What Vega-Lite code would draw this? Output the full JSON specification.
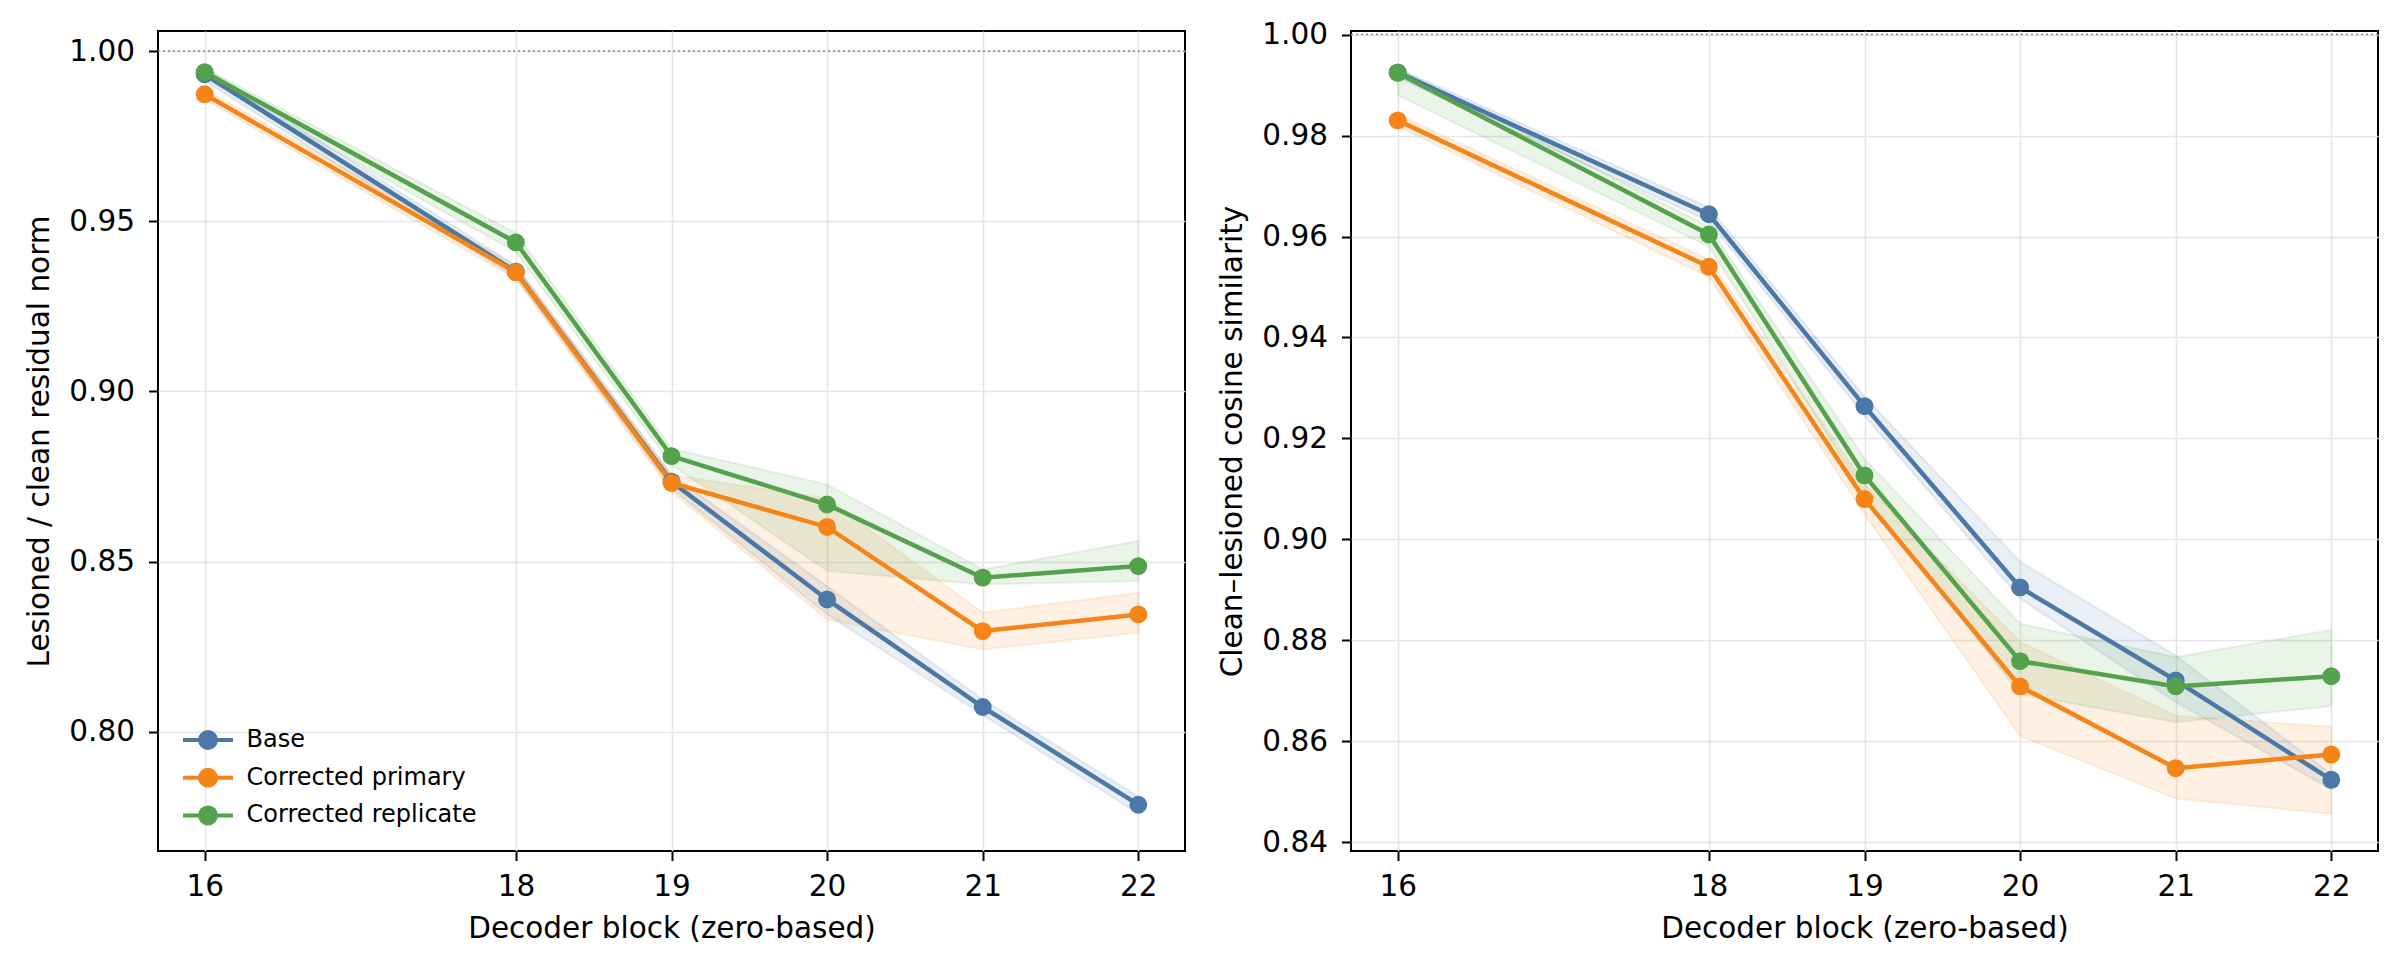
{
  "$schema": "https://vega.github.io/schema/vega-lite/v6.json",
  "background": "white",
  "padding": {"left": 23, "top": 18, "right": 0, "bottom": 0},
  "spacing": 29,
  "datasets": {
    "blocks": [
      {"panel": "norm", "series": "Base", "block": 16, "mean": 0.9932, "lo": 0.9912, "hi": 0.995},
      {"panel": "norm", "series": "Base", "block": 18, "mean": 0.9352, "lo": 0.9335, "hi": 0.937},
      {"panel": "norm", "series": "Base", "block": 19, "mean": 0.8735, "lo": 0.8715, "hi": 0.8755},
      {"panel": "norm", "series": "Base", "block": 20, "mean": 0.8389, "lo": 0.8345, "hi": 0.8428},
      {"panel": "norm", "series": "Base", "block": 21, "mean": 0.8073, "lo": 0.805, "hi": 0.8095},
      {"panel": "norm", "series": "Base", "block": 22, "mean": 0.7786, "lo": 0.776, "hi": 0.781},
      {"panel": "norm", "series": "Corrected primary", "block": 16, "mean": 0.9873, "lo": 0.9858, "hi": 0.9888},
      {"panel": "norm", "series": "Corrected primary", "block": 18, "mean": 0.935, "lo": 0.933, "hi": 0.937},
      {"panel": "norm", "series": "Corrected primary", "block": 19, "mean": 0.8731, "lo": 0.8705, "hi": 0.8755},
      {"panel": "norm", "series": "Corrected primary", "block": 20, "mean": 0.8602, "lo": 0.833, "hi": 0.8685},
      {"panel": "norm", "series": "Corrected primary", "block": 21, "mean": 0.8296, "lo": 0.8242, "hi": 0.835},
      {"panel": "norm", "series": "Corrected primary", "block": 22, "mean": 0.8345, "lo": 0.8291, "hi": 0.8409},
      {"panel": "norm", "series": "Corrected replicate", "block": 16, "mean": 0.9938, "lo": 0.992, "hi": 0.995},
      {"panel": "norm", "series": "Corrected replicate", "block": 18, "mean": 0.9438, "lo": 0.941, "hi": 0.9465},
      {"panel": "norm", "series": "Corrected replicate", "block": 19, "mean": 0.881, "lo": 0.8785, "hi": 0.8832},
      {"panel": "norm", "series": "Corrected replicate", "block": 20, "mean": 0.8668, "lo": 0.8473, "hi": 0.8727},
      {"panel": "norm", "series": "Corrected replicate", "block": 21, "mean": 0.8453, "lo": 0.8433, "hi": 0.8477},
      {"panel": "norm", "series": "Corrected replicate", "block": 22, "mean": 0.8487, "lo": 0.8443, "hi": 0.8561},
      {"panel": "cos", "series": "Base", "block": 16, "mean": 0.9925, "lo": 0.9915, "hi": 0.9933},
      {"panel": "cos", "series": "Base", "block": 18, "mean": 0.9644, "lo": 0.963, "hi": 0.9658},
      {"panel": "cos", "series": "Base", "block": 19, "mean": 0.9264, "lo": 0.9245, "hi": 0.9283},
      {"panel": "cos", "series": "Base", "block": 20, "mean": 0.8905, "lo": 0.8883, "hi": 0.8956},
      {"panel": "cos", "series": "Base", "block": 21, "mean": 0.8721, "lo": 0.8678, "hi": 0.877},
      {"panel": "cos", "series": "Base", "block": 22, "mean": 0.8524, "lo": 0.8505, "hi": 0.8535},
      {"panel": "cos", "series": "Corrected primary", "block": 16, "mean": 0.983, "lo": 0.9818, "hi": 0.9842},
      {"panel": "cos", "series": "Corrected primary", "block": 18, "mean": 0.954, "lo": 0.952, "hi": 0.9555},
      {"panel": "cos", "series": "Corrected primary", "block": 19, "mean": 0.908, "lo": 0.905, "hi": 0.911},
      {"panel": "cos", "series": "Corrected primary", "block": 20, "mean": 0.8709, "lo": 0.8611, "hi": 0.8797},
      {"panel": "cos", "series": "Corrected primary", "block": 21, "mean": 0.8547, "lo": 0.8487, "hi": 0.8651},
      {"panel": "cos", "series": "Corrected primary", "block": 22, "mean": 0.8574, "lo": 0.8457, "hi": 0.8629},
      {"panel": "cos", "series": "Corrected replicate", "block": 16, "mean": 0.9924, "lo": 0.988, "hi": 0.9933},
      {"panel": "cos", "series": "Corrected replicate", "block": 18, "mean": 0.9604, "lo": 0.958, "hi": 0.962},
      {"panel": "cos", "series": "Corrected replicate", "block": 19, "mean": 0.9127, "lo": 0.909, "hi": 0.916},
      {"panel": "cos", "series": "Corrected replicate", "block": 20, "mean": 0.8759, "lo": 0.8694, "hi": 0.8833},
      {"panel": "cos", "series": "Corrected replicate", "block": 21, "mean": 0.8709, "lo": 0.8638, "hi": 0.8767},
      {"panel": "cos", "series": "Corrected replicate", "block": 22, "mean": 0.8729, "lo": 0.867, "hi": 0.8821}
    ]
  },
  "resolve": {"legend": {"color": "independent"}},
  "hconcat": [
    {
      "width": 1027,
      "height": 820,
      "layer": [
        {
          "data": {"values": [{"ref": 1.0}]},
          "mark": {"type": "rule", "color": "#888888", "strokeWidth": 1.5, "strokeDash": [2, 3]},
          "encoding": {
            "y": {"field": "ref", "type": "quantitative", "scale": {"domain": [0.765, 1.0059], "zero": false, "nice": false}}
          }
        },
        {
          "data": {"name": "blocks"},
          "transform": [{"filter": "datum.panel === 'norm'"}],
          "encoding": {
            "x": {
              "field": "block", "type": "quantitative",
              "scale": {"domain": [15.7, 22.3], "zero": false, "nice": false},
              "axis": {"values": [16, 18, 19, 20, 21, 22], "format": "d", "title": "Decoder block (zero-based)"}
            },
            "color": {
              "field": "series", "type": "nominal",
              "scale": {"domain": ["Base", "Corrected primary", "Corrected replicate"], "range": ["#4c78a8", "#f58518", "#54a24b"]},
              "legend": {
                "title": null,
                "orient": "none",
                "legendX": 38,
                "legendY": 697,
                "padding": 0,
                "labelFontSize": 24,
                "labelColor": "black",
                "labelLimit": 0,
                "labelOffset": 26.5,
                "rowPadding": 5.7,
                "symbolType": "M-2.5,0L2.5,0M0.8,0A0.8,0.8,0,1,1,-0.8,0A0.8,0.8,0,1,1,0.8,0Z",
                "symbolSize": 400,
                "symbolStrokeWidth": 4,
                "symbolOpacity": 1,
                "encode": {
                  "symbols": {
                    "update": {
                      "stroke": {"scale": "color", "field": "value"},
                      "fill": {"scale": "color", "field": "value"},
                      "opacity": {"value": 1},
                      "fillOpacity": {"value": 1},
                      "strokeOpacity": {"value": 1}
                    }
                  }
                }
              }
            }
          },
          "layer": [
            {
              "mark": {"type": "area", "fillOpacity": 0.12, "strokeOpacity": 0.12, "strokeWidth": 2},
              "encoding": {
                "y": {"field": "lo", "type": "quantitative"},
                "y2": {"field": "hi"},
                "stroke": {
                  "field": "series", "type": "nominal", "legend": null,
                  "scale": {"domain": ["Base", "Corrected primary", "Corrected replicate"], "range": ["#4c78a8", "#f58518", "#54a24b"]}
                }
              }
            },
            {
              "mark": {"type": "line", "strokeWidth": 4.5},
              "encoding": {
                "y": {"field": "mean", "type": "quantitative"}
              }
            },
            {
              "mark": {"type": "point", "filled": true, "size": 320, "opacity": 1},
              "encoding": {
                "y": {
                  "field": "mean", "type": "quantitative",
                  "axis": {"values": [0.8, 0.85, 0.9, 0.95, 1.0], "format": ".2f", "title": "Lesioned / clean residual norm"}
                }
              }
            }
          ]
        }
      ]
    },
    {
      "width": 1027,
      "height": 820,
      "layer": [
        {
          "data": {"values": [{"ref": 1.0}]},
          "mark": {"type": "rule", "color": "#888888", "strokeWidth": 1.5, "strokeDash": [2, 3]},
          "encoding": {
            "y": {"field": "ref", "type": "quantitative", "scale": {"domain": [0.8383, 1.0007], "zero": false, "nice": false}}
          }
        },
        {
          "data": {"name": "blocks"},
          "transform": [{"filter": "datum.panel === 'cos'"}],
          "encoding": {
            "x": {
              "field": "block", "type": "quantitative",
              "scale": {"domain": [15.7, 22.3], "zero": false, "nice": false},
              "axis": {"values": [16, 18, 19, 20, 21, 22], "format": "d", "title": "Decoder block (zero-based)"}
            },
            "color": {
              "field": "series", "type": "nominal", "legend": null,
              "scale": {"domain": ["Base", "Corrected primary", "Corrected replicate"], "range": ["#4c78a8", "#f58518", "#54a24b"]}
            }
          },
          "layer": [
            {
              "mark": {"type": "area", "fillOpacity": 0.12, "strokeOpacity": 0.12, "strokeWidth": 2},
              "encoding": {
                "y": {"field": "lo", "type": "quantitative"},
                "y2": {"field": "hi"},
                "stroke": {
                  "field": "series", "type": "nominal", "legend": null,
                  "scale": {"domain": ["Base", "Corrected primary", "Corrected replicate"], "range": ["#4c78a8", "#f58518", "#54a24b"]}
                }
              }
            },
            {
              "mark": {"type": "line", "strokeWidth": 4.5},
              "encoding": {
                "y": {"field": "mean", "type": "quantitative"}
              }
            },
            {
              "mark": {"type": "point", "filled": true, "size": 320, "opacity": 1},
              "encoding": {
                "y": {
                  "field": "mean", "type": "quantitative",
                  "axis": {"values": [0.84, 0.86, 0.88, 0.9, 0.92, 0.94, 0.96, 0.98, 1.0], "format": ".2f", "title": "Clean\u2013lesioned cosine similarity"}
                }
              }
            }
          ]
        }
      ]
    }
  ],
  "config": {
    "font": "DejaVu Sans",
    "view": {"stroke": "black", "strokeWidth": 2},
    "axis": {
      "labelFont": "DejaVu Sans",
      "titleFont": "DejaVu Sans",
      "labelFontSize": 29.5,
      "titleFontSize": 29.5,
      "titleFontWeight": "normal",
      "labelColor": "black",
      "titleColor": "black",
      "tickColor": "black",
      "tickSize": 9.5,
      "tickWidth": 2,
      "domain": false,
      "grid": true,
      "gridColor": "#e6e6e6",
      "gridWidth": 1.6,
      "labelFlush": false,
      "labelOverlap": false
    },
    "axisX": {"labelPadding": 12, "titlePadding": 13.5},
    "axisY": {"labelPadding": 14, "titlePadding": 14.3},
    "legend": {"labelFont": "DejaVu Sans"}
  }
}
